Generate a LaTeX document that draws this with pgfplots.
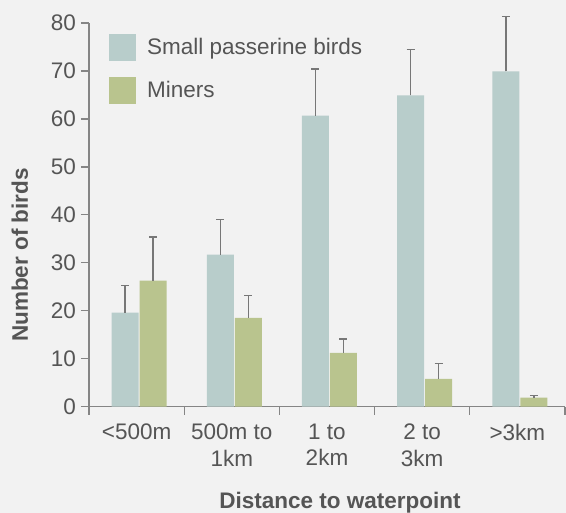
\documentclass[border=0pt]{standalone}
\usepackage{pgfplots}
\pgfplotsset{compat=1.18}
\usepackage{fontspec}
\setmainfont{Liberation Sans}
\definecolor{bg}{HTML}{F2F2F2}
\definecolor{pass}{HTML}{B8CDCB}
\definecolor{mine}{HTML}{B9C48E}
\definecolor{txt}{HTML}{555555}
\definecolor{axc}{HTML}{858585}
\definecolor{errc}{HTML}{777777}
\begin{document}
\fontsize{22.5}{26.5}\selectfont
\begin{tikzpicture}
\fill[bg] (-89pt,-106.3pt) rectangle (477pt,406.7pt);
\useasboundingbox (-89pt,-106.3pt) rectangle (477pt,406.7pt);
\begin{axis}[
  at={(0pt,0pt)}, anchor=south west,
  scale only axis, width=476pt, height=383.7pt,
  xmin=0.5, xmax=5.5, ymin=0, ymax=80,
  clip=false,
  axis x line=bottom, axis y line=left,
  axis line style={axc, line width=1.3pt, -},
  tick style={axc, line width=1.3pt},
  tick align=outside,
  major tick length=8pt,
  ytick={0,10,...,80},
  xtick={1,...,5},
  xticklabels={{<500m},{500m to\\1km},{1 to\\2km},{2 to\\3km},{>3km}},
  xtick style={draw=none},
  extra x ticks={0.5,1.5,...,5.5},
  extra x tick labels={},
  extra x tick style={xtick style={draw=axc}},
  tick label style={font=\fontsize{22.5}{26.5}\selectfont, text=txt},
  xticklabel style={align=center, anchor=north, inner sep=0pt, yshift=-9pt},
  yticklabel style={anchor=east, inner sep=0pt, xshift=-5pt},
  /pgf/number format/assume math mode=true,
  ybar, bar width=27pt,
  legend style={at={(0.042,0.9713)}, anchor=north west, draw=none, fill=none,
    inner sep=0pt, row sep=16pt, column sep=11pt,
    nodes={inner sep=0pt, text=txt, font=\fontsize{22.5}{26.5}\selectfont}},
  legend cell align=left,
]
\addplot[fill=pass, draw=none, bar shift=-11.5pt,
  legend image code/.code={\fill[pass] (0pt,-13.5pt) rectangle (27pt,13.5pt);},
  error bars/.cd, y dir=plus, y explicit,
  error bar style={errc, line width=1.3pt},
  error mark options={rotate=90, mark size=4pt, errc, line width=1.3pt}]
  table[x=x, y=y, y error=e] {
x y e
1 19.6 5.7
2 31.7 7.3
3 60.7 9.7
4 64.9 9.6
5 69.9 11.4
};
\addplot[fill=mine, draw=none, bar shift=16.5pt,
  legend image code/.code={\fill[mine] (0pt,-13.5pt) rectangle (27pt,13.5pt);},
  error bars/.cd, y dir=plus, y explicit,
  error bar style={errc, line width=1.3pt},
  error mark options={rotate=90, mark size=4pt, errc, line width=1.3pt}]
  table[x=x, y=y, y error=e] {
x y e
1 26.3 9.1
2 18.5 4.7
3 11.2 2.9
4 5.8 3.2
5 1.9 0.5
};
\legend{Small passerine birds, Miners}
\end{axis}
\node[rotate=90, anchor=base, text=txt, font=\fontsize{22.5}{26.5}\selectfont\bfseries] at (-61pt,151.7pt) {Number of birds};
\node[anchor=base, text=txt, font=\fontsize{22.5}{26.5}\selectfont\bfseries] at (251pt,-102.3pt) {Distance to waterpoint};
\end{tikzpicture}
\end{document}
